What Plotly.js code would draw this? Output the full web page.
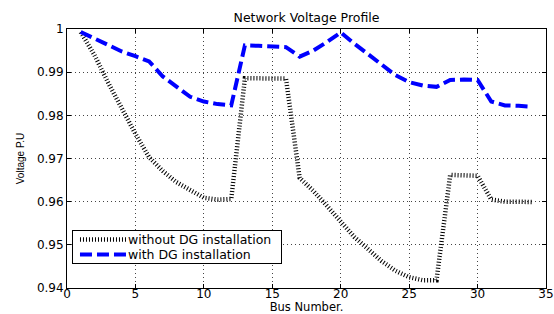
<!DOCTYPE html>
<html>
<head>
<meta charset="utf-8">
<script src="https://cdn.plot.ly/plotly-3.0.1.min.js"></script>
<style>html,body{margin:0;padding:0;background:#fff;}#chart{width:554px;height:314px;}</style>
</head>
<body>
<div id="chart"></div>
<script>
const busNumbers = [1,2,3,4,5,6,7,8,9,10,11,12,13,14,15,16,17,18,19,20,21,22,23,24,25,26,27,28,29,30,31,32,33,34];
const withoutDG = [0.9993,0.9940,0.9876,0.9815,0.9757,0.9703,0.9671,0.9645,0.9627,0.9609,0.9605,0.9606,0.9886,0.9886,0.9886,0.9885,0.9655,0.9625,0.9590,0.9553,0.9518,0.9490,0.9462,0.9440,0.9425,0.9418,0.9418,0.9662,0.9662,0.9660,0.9605,0.9600,0.9600,0.9599];
const withDG = [0.9993,0.9978,0.9963,0.9948,0.9937,0.9925,0.9890,0.9866,0.9843,0.9832,0.9826,0.9823,0.9962,0.9961,0.9960,0.9958,0.9936,0.9950,0.9970,0.9992,0.9966,0.9942,0.9916,0.9893,0.9877,0.9869,0.9866,0.9882,0.9883,0.9882,0.9832,0.9823,0.9822,0.9820];
const seriesNames = ['without DG installation','with DG installation'];
const xTicks = [0,5,10,15,20,25,30,35];
const yTicks = [0.94,0.95,0.96,0.97,0.98,0.99,1];

const font = 'DejaVu Sans, sans-serif';
const traces = [
  {x: busNumbers, y: withoutDG, name: seriesNames[0], type: 'scatter', mode: 'lines',
   line: {color: '#000000', width: 4.5, dash: '1px,2px'}},
  {x: busNumbers, y: withDG, name: seriesNames[1], type: 'scatter', mode: 'lines',
   line: {color: '#0000ff', width: 4, dash: '12px,5px'}}
];
const axisCommon = {
  showline: true, linecolor: '#000', linewidth: 1, mirror: 'ticks',
  ticks: 'inside', ticklen: 4, tickcolor: '#000',
  showgrid: true, gridcolor: '#444', gridwidth: 1, griddash: '1px,3px',
  zeroline: false, tickfont: {family: font, size: 12, color: '#000'}
};
const layout = {
  width: 554, height: 314,
  margin: {l: 67, r: 8, t: 29, b: 26},
  paper_bgcolor: '#fff', plot_bgcolor: '#fff',
  title: {text: 'Network Voltage Profile', font: {family: font, size: 12.5, color: '#000'},
          x: 0.5, xref: 'paper', xanchor: 'center', y: 1, yref: 'paper', yanchor: 'bottom', pad: {b: 7}},
  xaxis: Object.assign({}, axisCommon, {range: [0, 35], tickvals: xTicks, ticklabelstandoff: -5,
          title: {text: 'Bus Number.', font: {family: font, size: 11.5, color: '#000'}, standoff: 10}}),
  yaxis: Object.assign({}, axisCommon, {range: [0.94, 1], tickvals: yTicks,
          title: {text: 'Voltage P.U', font: {family: 'Liberation Sans, Arial, sans-serif', size: 10, color: '#000'}, standoff: 10}}),
  showlegend: true,
  legend: {x: 0.0104, y: 0.2239, xanchor: 'left', yanchor: 'top', bgcolor: '#fff',
           bordercolor: '#000', borderwidth: 1, font: {family: font, size: 12.5, color: '#000'},
           itemwidth: 40, tracegroupgap: 0}
};
Plotly.newPlot('chart', traces, layout, {displayModeBar: false, staticPlot: true}).then(function (gd) {
  // tighten legend to match the reference's compact box
  const leg = gd.querySelector('.legend');
  if (!leg) return;
  const bg = leg.querySelector('rect.bg');
  const items = leg.querySelectorAll('g.traces');
  const rowTop = 9.5, rowGap = 15;
  items.forEach(function (it, i) {
    it.setAttribute('transform', 'translate(1,' + (rowTop + i * rowGap) + ')');
    const p = it.querySelector('path.js-line');
    if (p) p.setAttribute('d', 'M7,0h46');
    const t = it.querySelector('text.legendtext');
    if (t) t.setAttribute('x', 55);
  });
  if (bg) { bg.setAttribute('height', 33); bg.setAttribute('width', 209); }
});
</script>
</body>
</html>
